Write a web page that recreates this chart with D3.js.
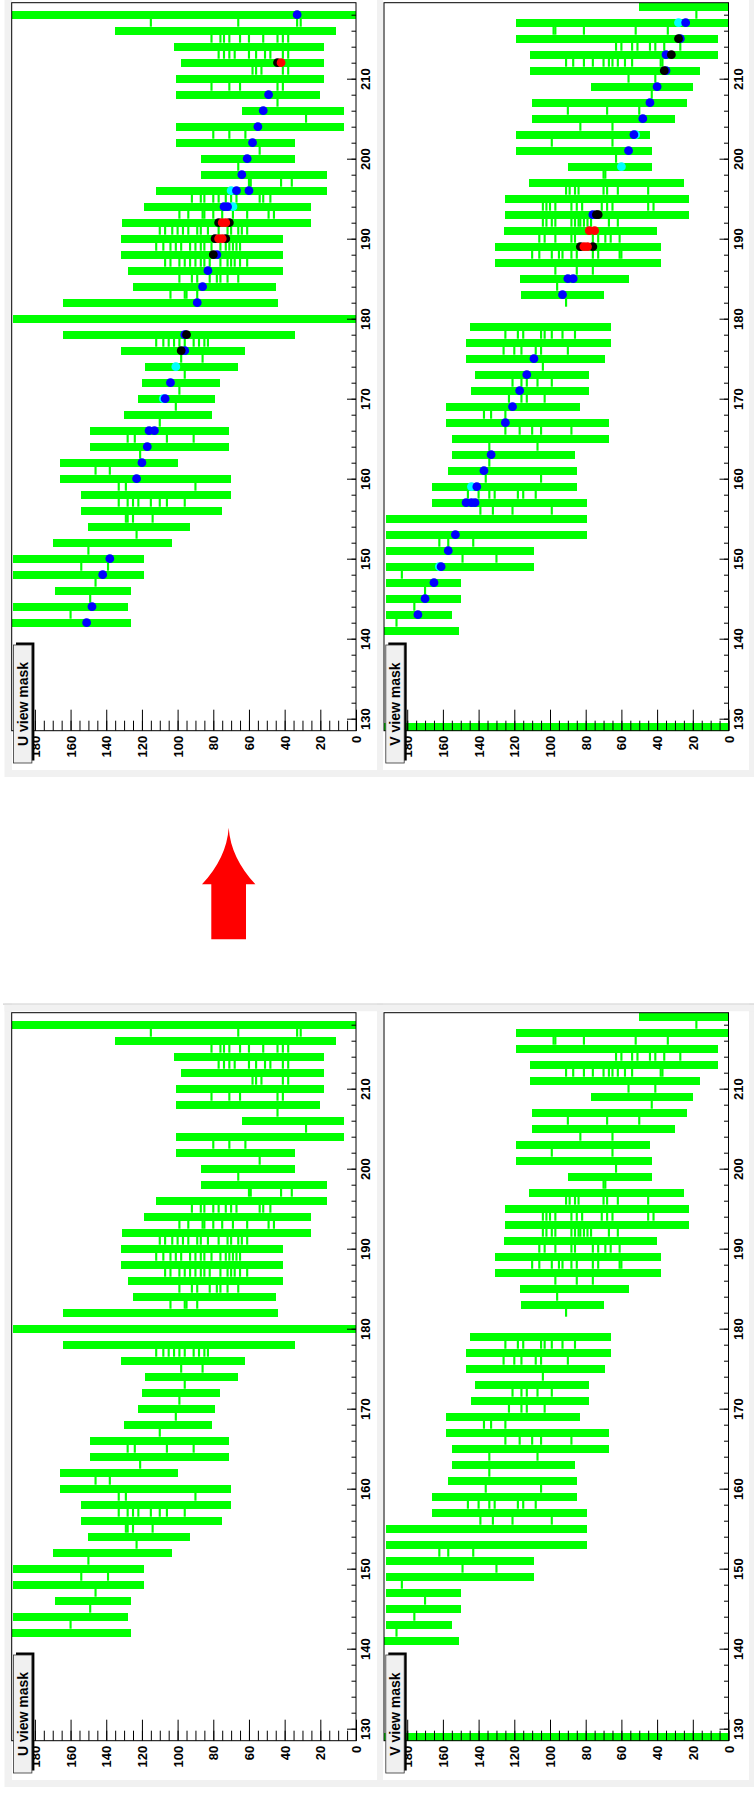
<!DOCTYPE html>
<html>
<head>
<meta charset="utf-8">
<script src="https://cdn.jsdelivr.net/npm/d3@7"></script>
<style>
  body { margin: 0; background: #fff; }
  svg text { font-family: "Liberation Sans", Arial, sans-serif; font-weight: bold; }
</style>
</head>
<body>
<div id="chart"></div>
<script>
// masks: [plane, first wire, last wire] for the wide cells
var uBars = [
  [218, 0, 193], [216, 11, 135], [214, 18, 102], [212, 18, 98], [210, 18, 101],
  [208, 20, 101], [206, 7, 64], [204, 7, 101], [202, 34, 101], [200, 34, 87],
  [198, 16, 87], [196, 16, 112], [194, 25, 119], [192, 25, 131], [190, 41, 132],
  [188, 41, 132], [186, 41, 128], [184, 45, 125], [182, 44, 164], [180, 0, 192],
  [178, 34, 164], [176, 62, 132], [174, 66, 118], [172, 76, 120], [170, 79, 122],
  [168, 81, 130], [166, 71, 149], [164, 71, 149], [162, 100, 166], [160, 70, 166],
  [158, 70, 154], [156, 75, 154], [154, 93, 150], [152, 103, 170], [150, 119, 192],
  [148, 119, 192], [146, 126, 169], [144, 128, 192], [142, 126, 193]
];
// single wires on the planes in between
var uHits = [
  [217, [115, 66, 33, 31]],
  [215, [81, 76, 74, 71, 65, 60, 52, 44, 41, 38]],
  [213, [77, 74, 71, 68, 60, 56, 51, 48, 41, 38]],
  [211, [58, 56, 53, 41, 38]],
  [209, [81, 71, 65, 44, 41]],
  [207, [44]], [205, [28]], [203, [80, 71, 62]], [201, [54]], [199, [66]],
  [197, [60, 59, 42, 36]],
  [195, [92, 87, 85, 80, 77, 73, 70, 67, 54, 52, 48]],
  [193, [99, 94, 86, 85, 80, 75, 69, 61, 49, 46]],
  [191, [110, 107, 103, 100, 97, 94, 89, 87, 83, 77, 72, 70, 66, 64, 61]],
  [189, [112, 108, 104, 101, 98, 93, 90, 87, 85, 81, 76, 73, 71, 69, 67, 65]],
  [187, [107, 104, 99, 96, 93, 90, 87, 85, 82, 76, 72, 70, 68, 65, 61]],
  [185, [99, 92, 89, 82, 78, 76, 72, 66]],
  [183, [104, 96, 95, 89]],
  [177, [112, 108, 105, 102, 99, 96, 91, 88, 85, 83]],
  [175, [98, 86]], [173, [96]], [171, [99]], [169, [101]], [167, [110]],
  [165, [128, 124, 106, 91]], [163, [121]], [161, [146, 138]], [159, [133, 129, 90]],
  [157, [133, 128, 125, 122, 115, 110, 106, 96]],
  [155, [129, 128, 125, 114]], [153, [123]], [151, [150]], [149, [154, 139]],
  [147, [146]], [145, [149]], [143, [160]]
];
var vBars = [
  [219, 0, 50], [217, 0, 119], [215, 6, 119], [213, 6, 111], [211, 16, 111],
  [209, 20, 77], [207, 23, 110], [205, 30, 110], [203, 44, 119], [201, 43, 119],
  [199, 43, 90], [197, 25, 112], [195, 22, 125], [193, 22, 125], [191, 40, 126],
  [189, 38, 131], [187, 38, 131], [185, 56, 117], [183, 70, 116], [179, 66, 145],
  [177, 66, 147], [175, 69, 147], [173, 78, 142], [171, 78, 144], [169, 83, 158],
  [167, 67, 158], [165, 67, 155], [163, 86, 155], [161, 85, 157], [159, 85, 166],
  [157, 79, 166], [155, 79, 192], [153, 79, 192], [151, 109, 192], [149, 109, 192],
  [147, 150, 192], [145, 150, 192], [143, 155, 192], [141, 151, 193], [129, 0, 193]
];
var vHits = [
  [218, [18]],
  [216, [98, 97, 81, 52, 34]],
  [214, [63, 60, 54, 51, 44, 41, 36, 27]],
  [212, [91, 87, 81, 76, 70, 67, 65, 62, 58, 54, 38, 37]],
  [210, [56, 41]], [208, [43]], [206, [90, 68, 50]], [204, [83, 65]], [202, [99, 65]],
  [200, [63]], [198, [70, 69]],
  [196, [91, 89, 86, 84, 70, 68, 62, 45]],
  [194, [104, 102, 100, 97, 88, 85, 82, 71, 68, 65, 45, 42]],
  [192, [104, 102, 99, 97, 88, 86, 84, 83, 81, 79, 77, 67, 62]],
  [190, [106, 103, 97, 88, 86, 76, 73, 69, 66, 61]],
  [188, [110, 106, 99, 95, 93, 88, 85, 76, 73, 61, 60]],
  [186, [97, 85, 76]], [184, [96]], [182, [91]],
  [178, [125, 118, 115, 105, 103, 99, 93, 86]],
  [176, [126, 120, 116, 108, 105, 90]], [174, [104]],
  [172, [121, 116, 113, 107, 99]], [170, [123, 116, 113, 103]],
  [168, [137, 133, 125]], [166, [125, 117, 110, 105, 88]],
  [164, [134, 107]], [162, [134]], [160, [136, 105]],
  [158, [146, 140, 134, 131, 118, 115, 108]], [156, [139, 132, 121, 99]],
  [152, [162, 157, 143]], [150, [149, 130]], [148, [183]], [146, [170]],
  [144, [176]], [142, [186]]
];
// points drawn on the upper pair: [plane, wire, kind]
var uMarks = [
  [218, 33, "hit"], [212, 44, "vertex"], [212, 42, "start"], [208, 49, "hit"],
  [206, 52, "hit"], [204, 55, "hit"], [202, 58, "hit"], [200, 61, "hit"], [198, 64, "hit"],
  [196, 70, "shared"], [196, 67, "hit"], [196, 60, "hit"],
  [194, 69, "shared"], [194, 74, "hit"], [194, 72, "hit"],
  [192, 77, "vertex"], [192, 71, "vertex"], [192, 75, "start"], [192, 73, "start"],
  [190, 79, "vertex"], [190, 73, "vertex"], [190, 77, "start"], [190, 75, "start"],
  [188, 78, "hit"], [188, 80, "vertex"], [186, 83, "hit"], [184, 86, "hit"], [182, 89, "hit"],
  [178, 96, "hit"], [178, 95, "vertex"], [176, 96, "hit"], [176, 98, "vertex"],
  [174, 101, "shared"], [172, 104, "hit"], [170, 108, "shared"], [170, 107, "hit"],
  [166, 116, "hit"], [166, 113, "hit"], [164, 117, "hit"], [162, 120, "hit"], [160, 123, "hit"],
  [150, 138, "hit"], [148, 142, "hit"], [144, 148, "hit"], [142, 151, "hit"]
];
var vMarks = [
  [217, 28, "shared"], [217, 24, "hit"], [215, 27, "hit"], [215, 28, "vertex"],
  [213, 35, "hit"], [213, 32, "vertex"], [211, 35, "hit"], [211, 36, "vertex"],
  [209, 40, "hit"], [207, 44, "hit"], [205, 48, "hit"], [203, 52, "shared"], [203, 53, "hit"],
  [201, 56, "hit"], [199, 60, "shared"],
  [193, 76, "hit"], [193, 74, "vertex"], [193, 73, "vertex"],
  [191, 78, "start"], [191, 75, "start"],
  [189, 83, "vertex"], [189, 76, "vertex"], [189, 81, "start"], [189, 79, "start"],
  [185, 90, "hit"], [185, 87, "hit"], [183, 93, "hit"],
  [175, 109, "hit"], [173, 113, "hit"], [171, 117, "hit"], [169, 121, "hit"], [167, 125, "hit"],
  [163, 133, "hit"], [161, 137, "hit"], [159, 144, "shared"], [159, 141, "hit"],
  [157, 147, "hit"], [157, 144, "hit"], [157, 142, "hit"], [153, 153, "hit"], [151, 157, "hit"],
  [149, 162, "shared"], [149, 161, "hit"], [147, 165, "hit"], [145, 170, "hit"], [143, 174, "hit"]
];
var markKinds = ["shared", "hit", "vertex", "start"];
var markColors = ["#00ffff", "#0000ff", "#000000", "#ff0000"];

var wireTicks = [0, 20, 40, 60, 80, 100, 120, 140, 160, 180];
var planeTicks = [130, 140, 150, 160, 170, 180, 190, 200, 210];
var titles = ["U view mask", "V view mask"];

var W = 754, H = 1793,
    frameTop = 2.7, frameBottom = 730.7,
    green = "#00ff00",
    shift = 1010;

var svg = d3.select("#chart").append("svg")
    .attr("width", W)
    .attr("height", H);

// grey window backgrounds and white canvases
[0, shift].forEach(function(dy) {
    svg.append("rect").attr("x", 4.5).attr("y", dy - 12).attr("width", W - 4.5).attr("height", 789)
        .attr("fill", "#f1f1f1");
    svg.append("rect").attr("x", 12).attr("y", dy - 12).attr("width", 365).attr("height", 782)
        .attr("fill", "#fff");
    svg.append("rect").attr("x", 383).attr("y", dy - 12).attr("width", 366).attr("height", 782)
        .attr("fill", "#fff");
});
svg.append("rect").attr("x", 0).attr("y", 777).attr("width", W).attr("height", 226.5).attr("fill", "#fff");
svg.append("rect").attr("x", 3).attr("y", 1003.5).attr("width", W - 3).attr("height", 1.2).attr("fill", "#cfcfcf");
svg.append("rect").attr("x", 4.5).attr("y", 1004.7).attr("width", W - 4.5).attr("height", 6.5).attr("fill", "#f1f1f1");

var panels = [
    {bars: uBars, hits: uHits, marks: uMarks, title: titles[0], left: 11.7, right: 356, dy: 0},
    {bars: vBars, hits: vHits, marks: vMarks, title: titles[1], left: 384, right: 728.5, dy: 0},
    {bars: uBars, hits: uHits, marks: [], title: titles[0], left: 11.7, right: 356, dy: shift},
    {bars: vBars, hits: vHits, marks: [], title: titles[1], left: 384, right: 728.5, dy: shift}
];

panels.forEach(function(p) {
    var g = svg.append("g").attr("transform", "translate(0," + p.dy + ")");

    var wire = d3.scaleLinear().domain([0, 193]).range([p.right, p.left]);
    var plane = d3.scaleLinear().domain([128.5, 219.5]).range([frameBottom, frameTop]);
    var color = d3.scaleOrdinal().domain(markKinds).range(markColors);

    // wide mask cells
    g.append("g").selectAll("rect")
        .data(p.bars)
        .enter().append("rect")
        .attr("x", d => wire(d[2]))
        .attr("width", d => wire(d[1]) - wire(d[2]))
        .attr("y", d => plane(d[0] + 0.5))
        .attr("height", d => plane(d[0] - 0.5) - plane(d[0] + 0.5))
        .attr("fill", green)
        .attr("shape-rendering", "crispEdges");

    // single wire cells
    var cells = [];
    p.hits.forEach(function(h) { h[1].forEach(function(w) { cells.push([h[0], w]); }); });
    g.append("g").selectAll("rect")
        .data(cells)
        .enter().append("rect")
        .attr("x", d => wire(d[1] + 0.6))
        .attr("width", d => wire(d[1] - 0.6) - wire(d[1] + 0.6))
        .attr("y", d => plane(d[0] + 0.5))
        .attr("height", d => plane(d[0] - 0.5) - plane(d[0] + 0.5))
        .attr("fill", green);

    // axes, ticks pointing inside the frame
    var minorX = g.append("g").attr("transform", "translate(0," + frameBottom + ")")
        .call(d3.axisBottom(wire).tickValues(d3.range(0, 195, 5)).tickSize(-10).tickFormat(""));
    minorX.select(".domain").remove();

    var gx = g.append("g").attr("transform", "translate(0," + frameBottom + ")")
        .call(d3.axisBottom(wire).tickValues(wireTicks).tickSize(-21).tickFormat(d3.format("d")));
    gx.select(".domain").remove();
    gx.attr("font-size", 13).attr("font-family", null);
    gx.selectAll("text")
        .attr("transform", "translate(0,5) rotate(-90)")
        .attr("x", 0).attr("y", 0).attr("dy", "0.35em")
        .style("text-anchor", "end")
        .attr("fill", "#000");

    var minorY = g.append("g").attr("transform", "translate(" + p.right + ",0)")
        .call(d3.axisRight(plane).tickValues(d3.range(130, 219, 2)).tickSize(-4.5).tickFormat(""));
    minorY.select(".domain").remove();

    var gy = g.append("g").attr("transform", "translate(" + p.right + ",0)")
        .call(d3.axisRight(plane).tickValues(planeTicks).tickSize(-9).tickFormat(d3.format("d")));
    gy.select(".domain").remove();
    gy.attr("font-size", 13).attr("font-family", null);
    gy.selectAll("text")
        .attr("transform", "translate(9.5,0) rotate(-90)")
        .attr("x", 0).attr("y", 0).attr("dy", "0.35em")
        .style("text-anchor", "middle")
        .attr("fill", "#000");

    // points
    g.append("g").selectAll("circle")
        .data(p.marks.slice().sort((a, b) => markKinds.indexOf(a[2]) - markKinds.indexOf(b[2])))
        .enter().append("circle")
        .attr("cx", d => wire(d[1]))
        .attr("cy", d => plane(d[0]))
        .attr("r", 4.4)
        .attr("fill", d => color(d[2]));

    // frame
    g.append("rect")
        .attr("x", p.left).attr("y", frameTop)
        .attr("width", p.right - p.left).attr("height", frameBottom - frameTop)
        .attr("fill", "none").attr("stroke", "#000").attr("stroke-width", 1);

    // title box with its shadow
    var bx = p.left + 1.8, by = 645, bw = 18.4, bh = 118;
    g.append("rect").attr("x", bx + 2.5).attr("y", by - 2.5).attr("width", bw).attr("height", bh)
        .attr("fill", "#000");
    g.append("rect").attr("x", bx).attr("y", by).attr("width", bw).attr("height", bh)
        .attr("fill", "#f0f0f0").attr("stroke", "#333").attr("stroke-width", 0.8);
    g.append("text")
        .attr("transform", "translate(" + (bx + bw / 2) + "," + (by + bh / 2) + ") rotate(-90)")
        .attr("dy", "0.35em")
        .style("text-anchor", "middle")
        .attr("font-size", 14)
        .text(p.title);
});

// red arrow between the two pictures
svg.append("path")
    .attr("d", "M228.7,827.7 Q226.7,857.7 202,884.3 L211.3,884.3 L211.3,939.3 L246,939.3 L246,884.3 L255.4,884.3 Q230.7,857.7 228.7,827.7 Z")
    .attr("fill", "#ff0000");
</script>
</body>
</html>
